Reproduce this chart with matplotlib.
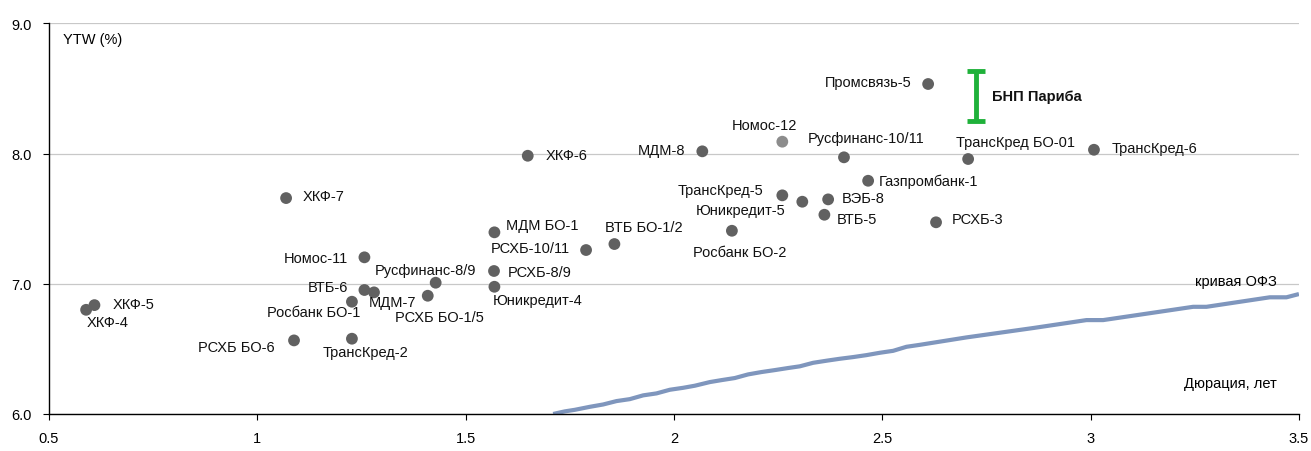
# YTW vs duration scatter with OFZ curve

import numpy as np
import matplotlib.pyplot as plt

plt.rcParams['font.family'] = ['Liberation Sans', 'DejaVu Sans']
plt.rcParams['font.size'] = 10.5

# bonds: name, duration (years), YTW (%)
names = ['ХКФ-4', 'ХКФ-5', 'ХКФ-7', 'Номос-11', 'ВТБ-6', 'МДМ-7', 'Росбанк БО-1',
         'РСХБ БО-1/5', 'Русфинанс-8/9', 'РСХБ БО-6', 'ТрансКред-2', 'ХКФ-6', 'МДМ-8',
         'Номос-12', 'Русфинанс-10/11', 'ТрансКред-5', 'Юникредит-5', 'ВЭБ-8', 'ВТБ-5',
         'Газпромбанк-1', 'Росбанк БО-2', 'МДМ БО-1', 'РСХБ-10/11', 'ВТБ БО-1/2',
         'РСХБ-8/9', 'Юникредит-4', 'Промсвязь-5', 'ТрансКред БО-01', 'ТрансКред-6',
         'РСХБ-3']
dur = [0.589, 0.609, 1.069, 1.257, 1.257, 1.280, 1.227, 1.409, 1.428, 1.088, 1.227,
       1.649, 2.068, 2.260, 2.408, 2.260, 2.308, 2.370, 2.361, 2.466, 2.139, 1.569,
       1.789, 1.857, 1.568, 1.569, 2.610, 2.706, 3.008, 2.629]
ytw = [6.80, 6.836, 7.658, 7.203, 6.952, 6.934, 6.862, 6.908, 7.008, 6.565, 6.578,
       7.983, 8.017, 8.091, 7.971, 7.679, 7.630, 7.648, 7.530, 7.791, 7.407, 7.395,
       7.259, 7.305, 7.098, 6.977, 8.534, 7.958, 8.029, 7.472]

# BNP Paribas guidance range
bnp_dur = 2.725
bnp_lo, bnp_hi = 8.252, 8.636

# OFZ curve
ofz_x = [1.710, 1.738, 1.762, 1.798, 1.830, 1.862, 1.894, 1.926, 1.958, 1.990, 2.022,
         2.050, 2.086, 2.114, 2.146, 2.178, 2.210, 2.242, 2.274, 2.302, 2.334, 2.366,
         2.398, 2.430, 2.462, 2.494, 2.526, 2.558, 2.590, 2.702, 2.862, 2.990, 3.030,
         3.246, 3.278, 3.430, 3.470, 3.500]
ofz_y = [6.000, 6.020, 6.032, 6.055, 6.073, 6.099, 6.114, 6.143, 6.158, 6.186, 6.201,
         6.217, 6.245, 6.260, 6.276, 6.304, 6.322, 6.337, 6.353, 6.366, 6.393, 6.409,
         6.424, 6.437, 6.452, 6.470, 6.485, 6.516, 6.531, 6.588, 6.660, 6.721, 6.721,
         6.823, 6.823, 6.896, 6.896, 6.921]

# label placement (pixel offsets, alignment)
lab = [(1, -12, 'left'), (18, 1, 'left'), (17, 2, 'left'), (-16, -1, 'right'),
       (-16, 3, 'right'), (-5, -10, 'left'), (8, -10, 'right'), (12, -21, 'center'),
       (-10, 13, 'center'), (-19, -7, 'right'), (14, -13, 'center'), (18, 1, 'left'),
       (-17, 1, 'right'), (-18, 17, 'center'), (22, 19, 'center'), (-19, 5, 'right'),
       (-17, -8, 'right'), (14, 1, 'left'), (12, -4, 'left'), (11, 0, 'left'),
       (8, -21, 'center'), (12, 7, 'left'), (-16, 2, 'right'), (29, 17, 'center'),
       (14, -1, 'left'), (-2, -13, 'left'), (-17, 2, 'right'), (47, 17, 'center'),
       (18, 2, 'left'), (16, 3, 'left')]

fig = plt.figure(figsize=(13.11, 4.52), dpi=100)
ax = fig.add_axes([0.0374, 0.0819, 0.9534, 0.8643])

ax.plot(ofz_x, ofz_y, color='#7f96bd', lw=3, solid_capstyle='butt', zorder=2, clip_on=True)

colors = ['#8c8c8c' if n == 'Номос-12' else '#616161' for n in names]
ax.scatter(dur, ytw, s=72, c=colors, edgecolors='none', zorder=3)

for n, x, y, (dx, dy, ha) in zip(names, dur, ytw, lab):
    ax.annotate(n, (x, y), xytext=(dx, dy), textcoords='offset pixels',
                ha=ha, va='center', color='#111111')

ax.errorbar([bnp_dur], [(bnp_lo + bnp_hi) / 2], yerr=[(bnp_hi - bnp_lo) / 2],
            fmt='none', ecolor='#1fb13a', elinewidth=3.5, capsize=6.5, capthick=3.5,
            zorder=4)
ax.annotate('БНП Париба', (bnp_dur, (bnp_lo + bnp_hi) / 2), xytext=(16, 0),
            textcoords='offset pixels', ha='left', va='center',
            fontweight='bold', color='#111111')

ax.text(0.0115, 0.96, 'YTW (%)', transform=ax.transAxes, ha='left', va='center')
ax.text(0.9825, 0.340, 'кривая ОФЗ', transform=ax.transAxes, ha='right', va='center')
ax.text(0.9825, 0.079, 'Дюрация, лет', transform=ax.transAxes, ha='right', va='center')

ax.set_xlim(0.5, 3.5)
ax.set_ylim(6.0, 9.0)
ax.set_xticks([0.5, 1, 1.5, 2, 2.5, 3, 3.5])
ax.set_xticklabels(['0.5', '1', '1.5', '2', '2.5', '3', '3.5'])
ax.set_yticks([6, 7, 8, 9])
ax.set_yticklabels(['6.0', '7.0', '8.0', '9.0'])
ax.grid(axis='y', color='#c8c8c8', lw=0.9)
ax.set_axisbelow(True)
for s in ['top', 'right']:
    ax.spines[s].set_visible(False)
ax.spines['left'].set_linewidth(1.0)
ax.spines['bottom'].set_linewidth(1.0)
ax.tick_params(axis='x', length=4.5, pad=8, labelsize=10.5)
ax.tick_params(axis='y', length=4.5, pad=8, labelsize=10.5)

fig.savefig('out.png', dpi=100)
